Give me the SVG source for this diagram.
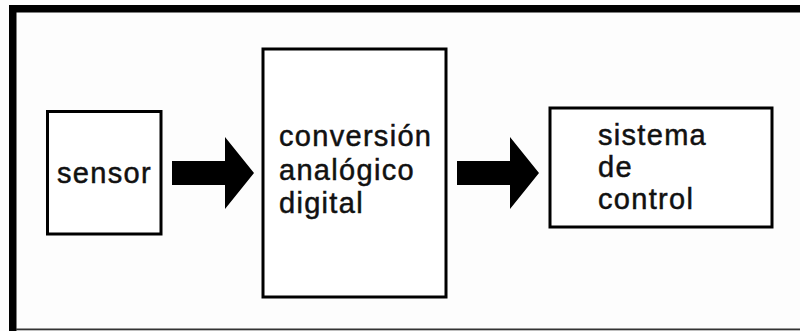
<svg xmlns="http://www.w3.org/2000/svg" width="800" height="331" viewBox="0 0 800 331">
  <style>
    .box { fill: #fff; stroke: #000; stroke-width: 3; }
    .lbl { font-family: "Liberation Sans", Arial, sans-serif; font-size: 29px; letter-spacing: 1.3px; fill: #111; stroke: #111; stroke-width: 0.5; }
    .arrow { fill: #000; }
  </style>
  <rect x="0" y="0" width="800" height="331" fill="#fdfdfd"/>
  <g id="frame">
    <rect x="9" y="5" width="791" height="7.5" fill="#000"/>
    <rect x="9" y="5" width="7.5" height="326" fill="#000"/>
    <rect x="16" y="328.5" width="784" height="1.8" fill="#333"/>
  </g>
  <g id="sensor">
    <rect class="box" x="47.5" y="111.5" width="113.5" height="122.5"/>
    <text class="lbl" x="57" y="183">sensor</text>
  </g>
  <g id="conversion">
    <rect class="box" x="263" y="49" width="183" height="248"/>
    <text class="lbl" x="279" y="146">conversión</text>
    <text class="lbl" x="279" y="180">analógico</text>
    <text class="lbl" x="279" y="213">digital</text>
  </g>
  <g id="control">
    <rect class="box" x="550" y="108" width="222" height="119"/>
    <text class="lbl" x="598" y="145">sistema</text>
    <text class="lbl" x="598" y="177">de</text>
    <text class="lbl" x="598" y="209">control</text>
  </g>
  <g id="connectors">
    <polygon class="arrow" points="172,161 225,161 225,137 254,173 225,209 225,185 172,185"/>
    <polygon class="arrow" points="457,161 510,161 510,137 539,173 510,209 510,185 457,185"/>
  </g>
</svg>
